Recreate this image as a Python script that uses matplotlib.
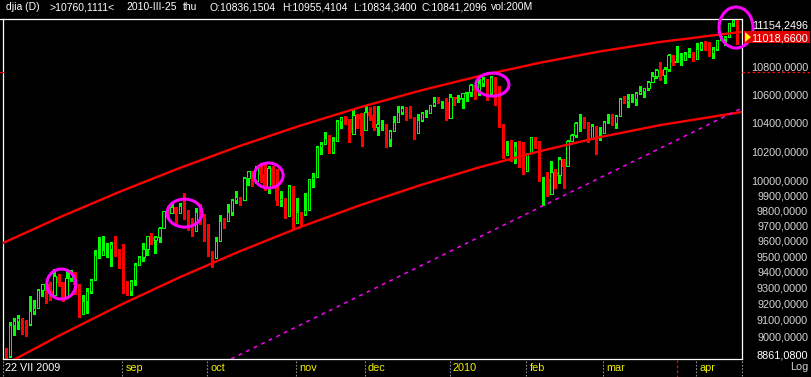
import numpy as np
import matplotlib
matplotlib.use("Agg")
import matplotlib.pyplot as plt
from matplotlib.patches import Ellipse, Rectangle, Polygon

plt.rcParams['font.family'] = ['Liberation Sans', 'DejaVu Sans']

# ---- daily candles (djia) ----
dates = [
    "2009-07-22", "2009-07-23", "2009-07-24", "2009-07-27", "2009-07-28", "2009-07-29", "2009-07-30", "2009-07-31",
    "2009-08-03", "2009-08-04", "2009-08-05", "2009-08-06", "2009-08-07", "2009-08-10", "2009-08-11", "2009-08-12",
    "2009-08-13", "2009-08-14", "2009-08-17", "2009-08-18", "2009-08-19", "2009-08-20", "2009-08-21", "2009-08-24",
    "2009-08-25", "2009-08-26", "2009-08-27", "2009-08-28", "2009-08-31",
    "2009-09-01", "2009-09-02", "2009-09-03", "2009-09-04", "2009-09-08", "2009-09-09", "2009-09-10", "2009-09-11",
    "2009-09-14", "2009-09-15", "2009-09-16", "2009-09-17", "2009-09-18", "2009-09-21", "2009-09-22", "2009-09-23",
    "2009-09-24", "2009-09-25", "2009-09-28", "2009-09-29", "2009-09-30",
    "2009-10-01", "2009-10-02", "2009-10-05", "2009-10-06", "2009-10-07", "2009-10-08", "2009-10-09", "2009-10-12",
    "2009-10-13", "2009-10-14", "2009-10-15", "2009-10-16", "2009-10-19", "2009-10-20", "2009-10-21", "2009-10-22",
    "2009-10-23", "2009-10-26", "2009-10-27", "2009-10-28", "2009-10-29", "2009-10-30",
    "2009-11-02", "2009-11-03", "2009-11-04", "2009-11-05", "2009-11-06", "2009-11-09", "2009-11-10", "2009-11-11",
    "2009-11-12", "2009-11-13", "2009-11-16", "2009-11-17", "2009-11-18", "2009-11-19", "2009-11-23", "2009-11-24",
    "2009-11-27",
    "2009-12-01", "2009-12-02", "2009-12-03", "2009-12-04", "2009-12-07", "2009-12-08", "2009-12-09", "2009-12-10",
    "2009-12-11", "2009-12-14", "2009-12-15", "2009-12-16", "2009-12-17", "2009-12-21", "2009-12-22", "2009-12-23",
    "2009-12-24", "2009-12-28", "2009-12-29", "2009-12-30", "2009-12-31",
    "2010-01-04", "2010-01-05", "2010-01-06", "2010-01-07", "2010-01-08", "2010-01-11", "2010-01-12", "2010-01-13",
    "2010-01-14", "2010-01-15", "2010-01-19", "2010-01-20", "2010-01-21", "2010-01-22", "2010-01-25", "2010-01-26",
    "2010-01-27", "2010-01-28", "2010-01-29",
    "2010-02-01", "2010-02-02", "2010-02-03", "2010-02-04", "2010-02-05", "2010-02-08", "2010-02-09", "2010-02-10",
    "2010-02-11", "2010-02-12", "2010-02-16", "2010-02-17", "2010-02-18", "2010-02-19", "2010-02-22", "2010-02-23",
    "2010-02-24", "2010-02-25", "2010-02-26",
    "2010-03-01", "2010-03-02", "2010-03-03", "2010-03-04", "2010-03-05", "2010-03-08", "2010-03-09", "2010-03-10",
    "2010-03-11", "2010-03-12", "2010-03-15", "2010-03-16", "2010-03-17", "2010-03-18", "2010-03-19", "2010-03-22",
    "2010-03-23", "2010-03-24", "2010-03-25", "2010-03-26", "2010-03-29", "2010-03-30", "2010-03-31",
    "2010-04-01", "2010-04-05", "2010-04-06", "2010-04-07", "2010-04-08", "2010-04-09", "2010-04-12", "2010-04-13",
    "2010-04-14", "2010-04-15", "2010-04-16",
]

opens = [
    8916, 8881, 9069, 9093, 9108, 9096, 9071, 9154,
    9172, 9286, 9320, 9281, 9256, 9370, 9338, 9241, 9362, 9398, 9321, 9135, 9218, 9279, 9350, 9506, 9509, 9539, 9544, 9581, 9544,
    9496, 9311, 9281, 9345, 9441, 9497, 9547, 9627, 9605, 9627, 9683, 9792, 9784, 9820, 9779, 9830, 9749, 9707, 9665, 9789, 9742,
    9712, 9509, 9488, 9600, 9731, 9726, 9787, 9865, 9886, 9871, 10016, 10063, 9996, 10092, 10041, 9949, 10081, 9972, 9868, 9882, 9763, 9963,
    9713, 9789, 9772, 9802, 10006, 10023, 10227, 10247, 10291, 10197, 10270, 10407, 10437, 10426, 10318, 10451, 10464,
    10345, 10472, 10453, 10366, 10389, 10390, 10286, 10337, 10406, 10471, 10501, 10452, 10441, 10329, 10414, 10465, 10466, 10520, 10547, 10545, 10548,
    10428, 10584, 10564, 10571, 10606, 10620, 10664, 10627, 10681, 10710, 10610, 10725, 10603, 10390, 10175, 10197, 10194, 10236, 10120,
    10067, 10186, 10297, 10271, 10002, 10012, 9908, 10059, 10038, 10144, 10099, 10269, 10309, 10393, 10402, 10383, 10282, 10374, 10321,
    10325, 10404, 10406, 10397, 10444, 10566, 10552, 10564, 10567, 10612, 10625, 10642, 10686, 10734, 10779, 10742, 10786, 10889, 10836.15, 10841, 10850, 10896, 10907,
    10857, 10927, 10974, 10970, 10897, 10927, 10997, 11006, 11019, 11123, 11145,
]

highs = [
    8930, 9088, 9110, 9130, 9112, 9100, 9250, 9225,
    9290, 9322, 9323, 9333, 9419, 9388, 9338, 9417, 9414, 9398, 9321, 9252, 9299, 9357, 9539, 9621, 9628, 9588, 9589, 9630, 9544,
    9580, 9340, 9346, 9455, 9500, 9583, 9630, 9650, 9630, 9688, 9794, 9829, 9850, 9820, 9845, 9917, 9800, 9750, 9815, 9840, 9777,
    9712, 9530, 9625, 9771, 9750, 9840, 9875, 9925, 9890, 10020, 10065, 10063, 10098, 10120, 10119, 10099, 10098, 10076, 9930, 9882, 9970, 9963,
    9880, 9790, 9915, 10010, 10047, 10232, 10262, 10330, 10311, 10295, 10415, 10440, 10446, 10426, 10497, 10460, 10464,
    10521, 10510, 10515, 10516, 10420, 10390, 10345, 10445, 10517, 10516, 10510, 10518, 10441, 10456, 10475, 10490, 10522, 10580, 10583, 10555, 10570,
    10604, 10584, 10594, 10612, 10619, 10676, 10664, 10710, 10723, 10711, 10730, 10725, 10661, 10390, 10270, 10275, 10266, 10271, 10260,
    10190, 10300, 10300, 10271, 10025, 10060, 10132, 10080, 10160, 10144, 10275, 10320, 10400, 10460, 10441, 10400, 10390, 10374, 10370,
    10410, 10460, 10460, 10450, 10570, 10590, 10600, 10600, 10615, 10660, 10645, 10695, 10760, 10785, 10835, 10800, 10895, 10889, 10955.41, 10900, 10905, 10935, 10907,
    10975, 10985, 10990, 10985, 10942, 11000, 11030, 11025, 11125, 11154.2496, 11145,
]

lows = [
    8861.08, 8875, 9005, 9040, 9010, 9000, 9068, 9135,
    9172, 9249, 9205, 9222, 9256, 9311, 9216, 9234, 9340, 9260, 9117, 9135, 9140, 9263, 9350, 9491, 9509, 9497, 9440, 9502, 9421,
    9269, 9252, 9253, 9319, 9441, 9470, 9510, 9580, 9520, 9590, 9683, 9752, 9784, 9707, 9779, 9743, 9670, 9630, 9665, 9710, 9596,
    9500, 9430, 9488, 9600, 9680, 9726, 9766, 9850, 9836, 9871, 9970, 9960, 9981, 9990, 9935, 9915, 9950, 9836, 9830, 9751, 9763, 9680,
    9713, 9700, 9770, 9802, 9952, 10023, 10182, 10247, 10185, 10190, 10270, 10360, 10390, 10262, 10318, 10360, 10235,
    10345, 10420, 10350, 10315, 10350, 10230, 10236, 10337, 10406, 10460, 10420, 10430, 10286, 10329, 10410, 10440, 10466, 10518, 10540, 10505, 10420,
    10428, 10522, 10546, 10505, 10554, 10591, 10568, 10596, 10660, 10556, 10592, 10522, 10368, 10150, 10175, 10134, 10120, 10090, 10040,
    10067, 10186, 10220, 9995, 9835.09, 9895, 9908, 9950, 9980, 9950, 10099, 10269, 10300, 10340, 10360, 10265, 10282, 10180, 10280,
    10325, 10396, 10380, 10360, 10444, 10540, 10510, 10545, 10520, 10600, 10580, 10630, 10686, 10720, 10700, 10680, 10770, 10815, 10834.34, 10815, 10850, 10870, 10845,
    10857, 10925, 10925, 10880, 10860, 10925, 10995, 10960, 11019, 11100, 10970,
]

closes = [
    8881.26, 9069.29, 9093.24, 9108.51, 9096.72, 9070.72, 9154.46, 9171.61,
    9286.56, 9320.19, 9280.97, 9256.26, 9370.07, 9337.95, 9241.45, 9361.61, 9398.19, 9321.40, 9135.34, 9217.94, 9279.16,
    9350.05, 9505.96, 9509.28, 9539.29, 9543.52, 9580.63, 9544.20, 9496.28,
    9310.60, 9280.67, 9344.61, 9441.27, 9497.34, 9547.22, 9627.48, 9605.41, 9626.80, 9683.41, 9791.71, 9783.92, 9820.20,
    9778.86, 9829.87, 9748.55, 9707.44, 9665.19, 9789.36, 9742.20, 9712.28,
    9509.28, 9487.67, 9599.75, 9731.25, 9725.58, 9786.87, 9864.94, 9885.80, 9871.06, 10015.86, 10062.94, 9995.91, 10092.19,
    10041.48, 9949.36, 10081.31, 9972.18, 9867.96, 9882.17, 9762.69, 9962.58, 9712.73,
    9789.44, 9771.91, 9802.14, 10005.96, 10023.42, 10226.94, 10246.97, 10291.26, 10197.47, 10270.47, 10406.96, 10437.42,
    10426.31, 10332.44, 10450.95, 10433.71, 10309.92,
    10471.58, 10452.68, 10366.15, 10388.90, 10390.11, 10285.97, 10337.05, 10405.83, 10471.50, 10501.05, 10452.00, 10441.12,
    10308.26, 10414.14, 10464.93, 10466.44, 10520.10, 10547.08, 10545.41, 10548.51, 10428.05,
    10583.96, 10572.02, 10573.68, 10606.86, 10618.19, 10663.99, 10627.26, 10680.77, 10710.55, 10609.65, 10725.43, 10603.15,
    10389.88, 10172.98, 10196.86, 10194.29, 10236.16, 10120.46, 10067.33,
    10185.53, 10296.85, 10270.55, 10002.18, 10012.23, 9908.39, 10058.64, 10038.38, 10144.19, 10099.14, 10268.81, 10309.24,
    10392.90, 10402.35, 10383.38, 10282.41, 10374.16, 10321.03, 10325.26,
    10403.79, 10405.98, 10396.76, 10444.14, 10566.20, 10552.52, 10564.38, 10567.33, 10611.84, 10624.69, 10642.15, 10685.98,
    10733.67, 10779.17, 10741.98, 10785.89, 10888.83, 10836.15, 10841.21, 10850.36, 10895.86, 10907.42, 10856.63,
    10927.07, 10973.55, 10969.99, 10897.52, 10927.07, 10997.35, 11005.97, 11019.42, 11123.11, 11144.57, 11018.66,
]

y_min, y_max = 8861.08, 11154.2496
last_price = 11018.66
cursor_date = "2010-03-25"
cursor_price = 10760.1111

price_labels = [10800, 10600, 10400, 10200, 10000, 9900, 9800, 9700, 9600,
                9500, 9400, 9300, 9200, 9100, 9000]

# month markers on the time axis (august carries no label)
month_keys = ["2009-09", "2009-10", "2009-11", "2009-12", "2010-01", "2010-02", "2010-03", "2010-04"]
month_labels = ["sep", "oct", "nov", "dec", "2010", "feb", "mar", "apr"]
first_label = "22 VII 2009"

# drawn channel (bar index, price)
chan_idx = [-0.74, 13.37, 28.22, 43.07, 57.92, 72.77, 87.62, 102.48, 117.33, 132.18, 147.03, 161.88, 182.18]
upper_val = [9585, 9754, 9924, 10085, 10236, 10377, 10507, 10626, 10733, 10829, 10912, 10982, 11058]
lower_val = [8822, 9005, 9190, 9366, 9532, 9688, 9833, 9967, 10090, 10200, 10297, 10381, 10474]

# dashed support line
trend_idx = [55.7, 182.2]
trend_val = [8861.1, 10502.0]

# circled spots (bar index, price)
circle_idx = [13.7, 44.2, 65.0, 120.4, 180.7]
circle_val = [9322, 9781, 10033, 10670, 11090]
circle_w = [29, 35, 29, 33, 34]   # pixels
circle_h = [30, 28, 25, 23, 41]

title_parts = ["djia (D)", ">10760,1111<", "2010-III-25", "thu", "O:10836,1504",
               "H:10955,4104", "L:10834,3400", "C:10841,2096", "vol:200M"]
title_x = [6, 50, 126, 183, 210, 282, 353, 421, 491]

n = len(closes)
assert len(opens) == len(highs) == len(lows) == len(dates) == n

GREEN = "#00ff00"
RED = "#ff0000"
MAG = "#ff00ff"
YEL = "#f0f000"
LGREY = "#d4d4d4"

W, H = 811, 377
fig = plt.figure(figsize=(W / 100, H / 100), dpi=100, facecolor="black")
ax = fig.add_axes([3 / W, (H - 359) / H, 739 / W, 340 / H])
ax.set_facecolor("black")
ax.set_yscale("log")
ax.set_ylim(y_min, y_max)
ax.set_xlim(-0.74, 182.18)
ax.tick_params(which="both", left=False, bottom=False, labelleft=False, labelbottom=False)
ax.yaxis.set_minor_locator(matplotlib.ticker.NullLocator())
for s in ax.spines.values():
    s.set_color("white")
    s.set_linewidth(0.9)

x = np.arange(n)
o = np.array(opens, float)
h = np.array(highs, float)
l = np.array(lows, float)
c = np.array(closes, float)
up = c >= o
lo = np.minimum(o, c)
hi = np.maximum(o, c)

ax.vlines(x, l, h, colors=np.where(up, GREEN, RED), lw=0.75, zorder=2, antialiased=False)
ax.bar(x[up], (hi - lo)[up], bottom=lo[up], width=0.58, facecolor="black",
       edgecolor=GREEN, lw=0.7, zorder=3, antialiased=False)
ax.bar(x[~up], (hi - lo)[~up], bottom=lo[~up], width=0.58, facecolor=RED,
       edgecolor=RED, lw=0.7, zorder=3, antialiased=False)

ax.plot(chan_idx, upper_val, color=RED, lw=1.7, zorder=4)
ax.plot(chan_idx, lower_val, color=RED, lw=1.7, zorder=4)
ax.plot(trend_idx, trend_val, color=MAG, lw=1.1, dashes=(2.5, 3), zorder=4)

# overlay in pixel coordinates (top-left origin)
ov = fig.add_axes([0, 0, 1, 1], zorder=5)
ov.set_xlim(0, W)
ov.set_ylim(H, 0)
ov.axis("off")
ov.patch.set_alpha(0)


def to_px(i, p):
    X, Y = ax.transData.transform((i, p))
    return X, H - Y


for ci, cv, cw, ch in zip(circle_idx, circle_val, circle_w, circle_h):
    cx, cy = to_px(ci, cv)
    ov.add_patch(Ellipse((cx, cy), cw, ch, fill=False, edgecolor=MAG, lw=2.2, clip_on=False))

# title line
for t, tx in zip(title_parts, title_x):
    ov.text(tx, 10, t, color="white", fontsize=7.5, va="baseline", ha="left")

# price labels
for v in price_labels:
    _, py = to_px(0, v)
    ov.text(808, py + 4, f"{v:.4f}".replace(".", ","), color=LGREY, fontsize=7.8,
            ha="right", va="baseline")
_, ytop = to_px(0, y_max)
_, ybot = to_px(0, y_min)
ov.text(808, ytop + 9, f"{y_max:.4f}".replace(".", ","), color="white", fontsize=7.8,
        ha="right", va="baseline")
ov.text(808, ybot - 1, f"{y_min:.4f}".replace(".", ","), color="white", fontsize=7.8,
        ha="right", va="baseline")
ov.text(808, 370, "Log", color=LGREY, fontsize=7.8, ha="right", va="baseline")

# last price box
_, yl = to_px(0, last_price)
ov.add_patch(Rectangle((744, yl - 6), 66, 12, facecolor="#e00000", edgecolor="none"))
ov.add_patch(Polygon([(745, yl - 5), (745, yl + 5), (751, yl)], closed=True,
                     facecolor="#ffff00", edgecolor="none"))
ov.text(808, yl + 4, f"{last_price:.4f}".replace(".", ","), color="white", fontsize=7.8,
        ha="right", va="baseline")

# cursor
_, yc = to_px(0, cursor_price)
ov.plot([742, W], [yc, yc], color=RED, lw=0.9, dashes=(2, 2))
ov.plot([0, 3], [yc, yc], color=RED, lw=0.9)
xc, _ = to_px(dates.index(cursor_date), y_min)
ov.plot([xc, xc], [360, H], color=RED, lw=0.9, dashes=(2, 2))

# top border stub
ov.plot([0, 3], [19, 19], color="white", lw=0.9)

# time axis
ov.plot([3, 3], [361, H], color="#909090", lw=0.8, dashes=(1.5, 1.5))
ov.text(5, 371, first_label, color="white", fontsize=7.8, va="baseline")
for key, lab in zip(month_keys, month_labels):
    mi = next(i for i, d in enumerate(dates) if d.startswith(key))
    tx, _ = to_px(mi - 0.2, y_min)
    ov.plot([tx, tx], [361, H], color="#909090", lw=0.8, dashes=(1.5, 1.5))
    ov.text(tx + 3, 371, lab, color=YEL, fontsize=7.8, va="baseline")
ov.plot([742, 742], [361, H], color="#909090", lw=0.8, dashes=(1.5, 1.5))

fig.savefig("out.png", dpi=100, facecolor="black")
